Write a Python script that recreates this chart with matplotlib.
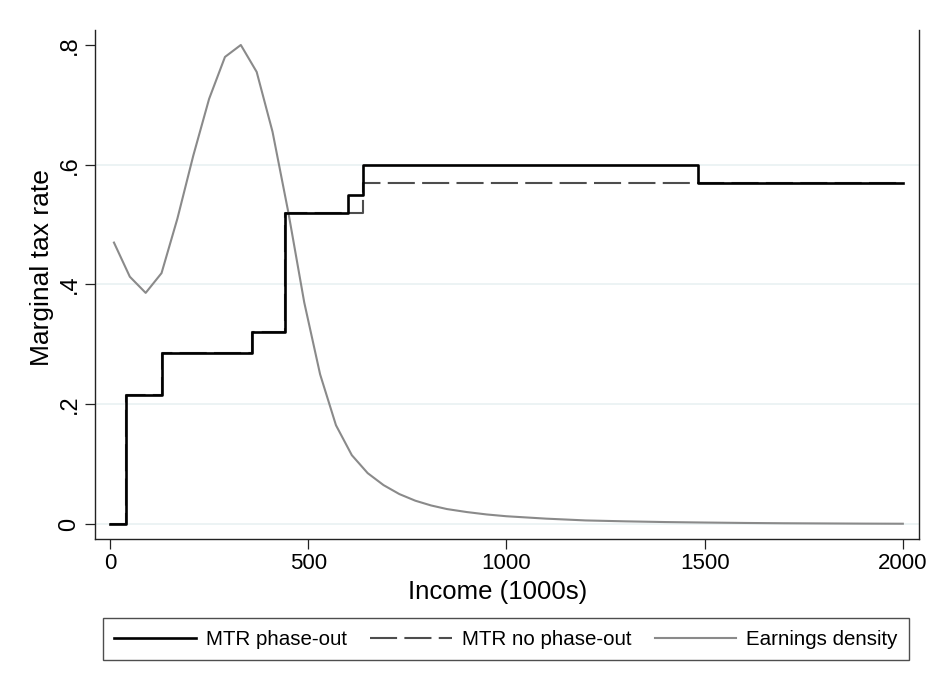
import matplotlib
matplotlib.use('Agg')
import matplotlib.pyplot as plt

# step schedules (income in 1000s)
income_breaks = [0, 40, 130, 357, 442, 600, 639, 1483, 2000]
mtr_phaseout = [0, 0.215, 0.285, 0.32, 0.52, 0.55, 0.60, 0.57, 0.57]
nophase_breaks = [0, 40, 130, 357, 442, 639, 2000]
mtr_nophaseout = [0, 0.215, 0.285, 0.32, 0.52, 0.57, 0.57]

# earnings density
dens_x = [10, 50, 90, 130, 170, 210, 250, 290, 330, 370, 410, 450, 490, 530,
          570, 610, 650, 690, 730, 770, 810, 850, 900, 950, 1000, 1100, 1200,
          1300, 1400, 1500, 1600, 1700, 1800, 1900, 2000]
dens_y = [0.47, 0.413, 0.386, 0.419, 0.51, 0.615, 0.71, 0.78, 0.80, 0.755,
          0.655, 0.52, 0.37, 0.25, 0.165, 0.115, 0.085, 0.065, 0.05, 0.039,
          0.031, 0.025, 0.02, 0.016, 0.013, 0.009, 0.006, 0.0045, 0.0033,
          0.0025, 0.0018, 0.0013, 0.001, 0.0007, 0.0005]

yticks = [0, 0.2, 0.4, 0.6, 0.8]
ytick_labels = ['0', '.2', '.4', '.6', '.8']
xticks = [0, 500, 1000, 1500, 2000]
grid_levels = [0, 0.2, 0.4, 0.6]

plt.rcParams['font.family'] = ['Liberation Sans', 'DejaVu Sans']

fig = plt.figure(figsize=(9.49, 6.91), dpi=100)
ax = fig.add_axes([94.7/949, 1-539/691, (918.7-94.7)/949, (539-30)/691])

for g in grid_levels:
    ax.axhline(g, color='#eaf2f3', lw=1.3, zorder=0)

ax.step(nophase_breaks, mtr_nophaseout, where='post', color='#4d4d4d', lw=1.5,
        linestyle=(0, (13, 3.5)), label='MTR no phase-out', zorder=2)
ax.step(income_breaks, mtr_phaseout, where='post', color='black', lw=1.9,
        label='MTR phase-out', zorder=3)
ax.plot(dens_x, dens_y, color='#8a8a8a', lw=1.5, label='Earnings density', zorder=2)

ax.set_xlim(-38.6, 2040)
ax.set_ylim(-0.025, 0.825)
ax.set_xticks(xticks)
ax.set_yticks(yticks)
ax.set_yticklabels(ytick_labels)
ax.tick_params(axis='both', direction='out', length=7.2, width=0.9,
               color='#222222', pad=3)
ax.tick_params(axis='x', labelsize=16)
ax.tick_params(axis='y', labelsize=17, labelrotation=90)
for lab in ax.get_yticklabels():
    lab.set_va('center')

ax.spines['top'].set_visible(False)
for s in ['left', 'right', 'bottom']:
    ax.spines[s].set_linewidth(1.0)
    ax.spines[s].set_color('#222222')

ax.set_xlabel('Income (1000s)', fontsize=18.5, va='center')
ax.xaxis.set_label_coords((498-94.7)/824, (539-592)/509)
ax.set_ylabel('Marginal tax rate', fontsize=19, va='center')
ax.yaxis.set_label_coords((42-94.7)/824, (539-268)/509)

h, l = ax.get_legend_handles_labels()
order = [1, 0, 2]
leg = fig.legend([h[i] for i in order], [l[i] for i in order],
                 loc='lower left', ncol=3, mode='expand', fontsize=14.8,
                 bbox_to_anchor=(103/949, 1-660/691, (909-103)/949, (660-617)/691),
                 borderaxespad=0, fancybox=False, edgecolor='#222222',
                 handlelength=3.95, handletextpad=0.5, columnspacing=1.0,
                 borderpad=0.55)
leg.get_frame().set_linewidth(1.0)

fig.savefig('out.png', dpi=100)
